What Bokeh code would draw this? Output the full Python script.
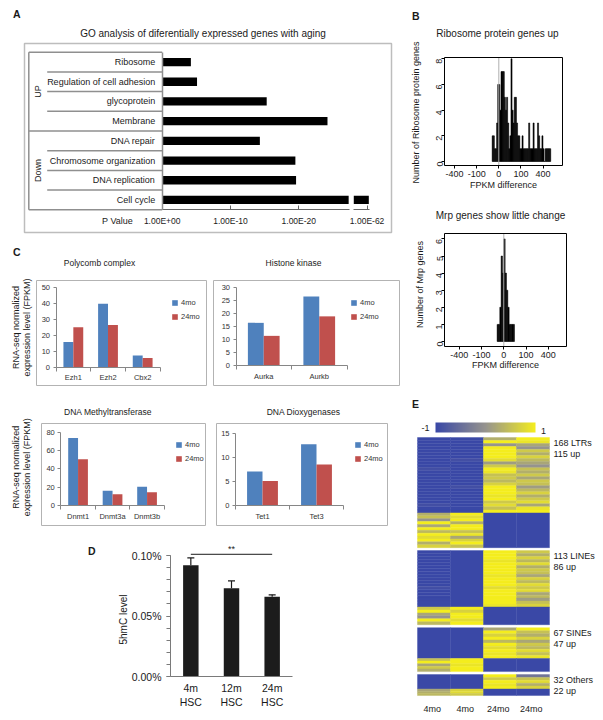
import math
import numpy as np
from bokeh.plotting import figure
from bokeh.models import (Range1d, LinearAxis, FixedTicker, Label, Legend, LegendItem,
                          Whisker, TeeHead, ColumnDataSource, LinearColorMapper,
                          PrintfTickFormatter)
from bokeh.layouts import row, column
from bokeh.embed import file_html
from bokeh.resources import INLINE
from bokeh.core.properties import value

FONT = "Liberation Sans"
INK = "#1a1a1a"
BLUE = "#4f81bd"
RED = "#c0504d"

# ====================== DATA ======================
# A: GO analysis, -log10(P value) per term
go_terms = ["Ribosome", "Regulation of cell adhesion", "glycoprotein", "Membrane",
            "DNA repair", "Chromosome organization", "DNA replication", "Cell cycle"]
go_groups = ["UP", "Down"]
go_group_sizes = [4, 4]
go_neglog10_p = [4.2, 5.1, 15.3, 24.2, 14.3, 19.5, 19.6, 63.0]
go_ticks = [0, 10, 20, 62]
go_tick_labels = ["1.00E+00", "1.00E-10", "1.00E-20", "1.00E-62"]

# B: histograms on a signed-sqrt FPKM-difference axis
fpkm_ticks = [-400, -100, 0, 100, 400]
ribo_bin_left = [-3.0, -2.5, -2.0, -1.5, -1.0, -0.5, 0.0, 0.5, 1.0, 1.5, 2.0, 2.5, 3.0, 3.5,
                 4.0, 4.5, 5.0, 5.5, 6.0, 6.5, 7.0, 7.5, 8.0, 8.5, 9.0, 9.5, 10.0, 10.5, 11.0,
                 11.5, 12.0, 12.5, 13.0, 13.5, 14.0, 14.5, 15.0, 15.5, 16.0, 16.5, 17.0, 17.5,
                 18.0, 18.5, 19.0, 19.5, 20.0, 20.5, 21.0, 21.5, 22.0, 22.5, 23.0]
ribo_counts = [2, 2, 1, 1, 3, 6, 6, 4, 7, 7, 7, 5, 4, 5,
               3, 1, 2, 8, 4, 3, 5, 5, 3, 2, 2, 1, 1, 2, 1,
               1, 1, 1, 1, 3, 1, 1, 1, 3, 1, 1, 1, 3,
               2, 1, 1, 2, 1, 0, 1, 1, 1, 1, 1]
ribo_bin_width = 0.5
ribo_yticks = [0, 2, 4, 6, 8]
mrp_bin_left = [-3.0, -2.4, -1.8, -1.2, -0.6, 0.0, 0.6, 1.2, 1.8, 2.4, 3.0, 3.6, 4.2]
mrp_counts = [1, 1, 2, 5, 4, 6, 4, 3, 2, 1, 1, 1, 1]
mrp_bin_width = 0.6
mrp_yticks = [0, 1, 2, 3, 4, 5, 6]

# C: RNA-seq FPKM
ages = ["4mo", "24mo"]
pc_genes = ["Ezh1", "Ezh2", "Cbx2"]
pc_4mo = [15.7, 39.6, 7.3]
pc_24mo = [25.0, 26.4, 5.7]
hk_genes = ["Aurka", "Aurkb"]
hk_4mo = [16.4, 26.5]
hk_24mo = [11.4, 18.9]
dnmt_genes = ["Dnmt1", "Dnmt3a", "Dnmt3b"]
dnmt_4mo = [73.6, 16.2, 20.4]
dnmt_24mo = [50.6, 12.2, 14.6]
tet_genes = ["Tet1", "Tet3"]
tet_4mo = [7.1, 12.8]
tet_24mo = [5.1, 8.6]

# D: 5hmC level (%)
hsc_groups = ["4m\nHSC", "12m\nHSC", "24m\nHSC"]
hmc_mean = [0.092, 0.073, 0.066]
hmc_err = [0.006, 0.006, 0.0015]
hmc_ticks = [0, 0.05, 0.1]

# E: transposable element heatmap (stripes per column, top to bottom)
te_names = ["LTRs", "LINEs", "SINEs", "Others"]
te_total = [168, 113, 67, 32]
te_up = [115, 86, 47, 22]
hm_columns = ["4mo", "4mo", "24mo", "24mo"]
ltr_up = [
    [-1, -1, -1, -1, -1, -1, -1, -1, -1, -1, -0.9, -1, -1, -1, -1, -1, -1, -1, -1, -1, -1, -1, -0.9, -1, -1],
    [-1, -1, -1, -1, -1, -1, -1, -0.9, -1, -1, -1, -1, -1, -1, -1, -1, -0.9, -1, -1, -1, -1, -1, -1, -1, -1],
    [0.3, 1, 0.0, 1, 1, 1, 1, 0.8, 0.1, 0.6, 1, 0.9, 0.5, 0.6, 0.4, 0.7, 1, 1, 1, 0.9, 1, 0.6, 0.8, 0.5, 1],
    [1, 0.9, 0.2, 0.0, 0.6, 0.3, 0.7, 0.4, 0.2, 0.0, 0.5, 0.3, 0.6, 0.2, 0.6, 0.5, 0.1, 0.4, 0.7, 0.3, 0.6, 0.8, 0.2, 0.9, 1],
]
ltr_down = [
    [0.3, 0.5, 0.0, 1, 0.2, 1, 0.4, 1, 0.8, 1, 0.3, 0.7],
    [1, 0.8, 1, 0.3, 1, 1, 0.5, 0.9, 0.2, 0.7, 1, 0.5],
    [-1],
    [-1],
]
line_up = [
    [-1, -1, -1, -1, -1, -1, -1, -1, -1, -1, -1, -1, -0.9, -1, -1, -1, -1, -1, -1],
    [-1],
    [1, 1, 1, 0.9, 1, 1, 1, 1, 0.9, 1, 1, 1, 0.8, 1, 1, 1, 1, 1, 0.9],
    [0.6, 0.3, 0.7, 0.4, 0.8, 0.3, 0.6, 0.5, 0.2, 0.7, 0.4, 0.8, 0.6, 0.8, 0.2, 0.4, 0.1, 0.5, 0.7],
]
line_down = [
    [0.6, 1, 0.2, 0.0, 1, 0.4],
    [1, 0.7, 1, 1, 0.8, 1],
    [-1],
    [-1],
]
sine_up = [
    [-1],
    [-1],
    [0.2, 1, 0.7, 1, 0.4, 1, 0.8, 1, 0.9, 1],
    [1, 0.5, 0.3, 0.7, 0.2, 0.6, 0.4, 0.8, 0.5, 0.9],
]
sine_down = [
    [0.5, 1, 0.2, 0.6, 0.3],
    [1, 1, 0.9, 1, 1],
    [-1],
    [-1],
]
other_up = [
    [-1],
    [-1],
    [1, 0.6, 1, 0.9, 1],
    [-0.4, 0.5, 0.8, 0.3, 0.7],
]
other_down = [
    [0.2, 0.3, 0.4],
    [0.7, 0.8, 0.6],
    [-1],
    [-1],
]
te_up_stripes = [ltr_up, line_up, sine_up, other_up]
te_down_stripes = [ltr_down, line_down, sine_down, other_down]


# ====================== HELPERS ======================
class Cal:
    """Maps page pixels to data units for one figure."""
    def __init__(self, x0, xppu, y0, yppu, ydown=False):
        self.x0, self.xppu, self.y0, self.yppu, self.ydown = x0, xppu, y0, yppu, ydown

    def x(self, px):
        return (px - self.x0) / self.xppu

    def y(self, py):
        return (py - self.y0) / self.yppu if self.ydown else (self.y0 - py) / self.yppu


def make_fig(cal, fig_box):
    fx0, fy0, fx1, fy1 = fig_box
    p = figure(width=fx1 - fx0, height=fy1 - fy0,
               x_range=Range1d(cal.x(fx0), cal.x(fx1)), y_range=Range1d(cal.y(fy1), cal.y(fy0)),
               min_border=0, output_backend="svg", toolbar_location=None,
               x_axis_location=None, y_axis_location=None)
    p.grid.visible = False
    p.outline_line_color = None
    p.title.visible = False
    p.background_fill_color = "white"
    p.border_fill_color = "white"
    return p


def box(p, cal, px0, py0, px1, py1, color, width):
    p.quad(left=cal.x(px0), right=cal.x(px1), top=cal.y(py0), bottom=cal.y(py1),
           fill_color=None, line_color=color, line_width=width)


def label(p, cal, px, py, text, size, align="center", baseline="middle", angle=0.0,
          bold=False, color=INK):
    p.add_layout(Label(x=cal.x(px), y=cal.y(py), text=text, angle=angle,
                       text_font=FONT, text_font_size=f"{size}px",
                       text_font_style="bold" if bold else "normal",
                       text_align=align, text_baseline=baseline, text_color=color))


def style_axis(ax, size, color="#555555", label_color=INK, standoff=3, tick_in=0, tick_out=0,
               line_width=1):
    ax.axis_line_color = color
    ax.axis_line_width = line_width
    ax.major_tick_line_color = color
    ax.minor_tick_line_color = color
    ax.major_tick_in = tick_in
    ax.major_tick_out = tick_out
    ax.minor_tick_in = 0
    ax.minor_tick_out = 0
    ax.major_label_text_font = FONT
    ax.major_label_text_font_size = f"{size}px"
    ax.major_label_text_color = label_color
    ax.major_label_standoff = standoff


# ====================== PANEL A ======================
calA = Cal(161.7, 6.83, 51.7, 19.7, ydown=True)
pA = make_fig(calA, (0, 0, 400, 234))
box(pA, calA, 24, 43, 391, 232, "#bdbdbd", 1.5)

n_go = len(go_terms)
row_mid = [i + 0.5 for i in range(n_go)]
BREAK_LO, BREAK_HI, BREAK_TICK = 27.3, 28.05, 30.0


def go_disp(v):
    return v if v <= BREAK_LO else BREAK_TICK + (v - go_ticks[-1]) * 0.25


pA.hbar(y=row_mid, left=0, right=[min(v, BREAK_LO) for v in go_neglog10_p], height=0.42,
        fill_color="black", line_color=None)
brk = [(m, go_disp(v)) for m, v in zip(row_mid, go_neglog10_p) if v > BREAK_LO]
pA.hbar(y=[b[0] for b in brk], left=BREAK_HI, right=[b[1] for b in brk], height=0.42,
        fill_color="black", line_color=None)

tick_pos = [go_disp(t) for t in go_ticks]
ax_main = LinearAxis(fixed_location=n_go, bounds=(0, BREAK_LO + 0.1),
                     ticker=FixedTicker(ticks=[t for t in tick_pos if t <= BREAK_LO]),
                     major_label_overrides={t: l for t, l in zip(tick_pos, go_tick_labels) if t <= BREAK_LO})
ax_brk = LinearAxis(fixed_location=n_go, bounds=(BREAK_HI - 0.05, BREAK_TICK + 0.3),
                    ticker=FixedTicker(ticks=[t for t in tick_pos if t > BREAK_LO]),
                    major_label_overrides={t: l for t, l in zip(tick_pos, go_tick_labels) if t > BREAK_LO})
for ax in (ax_main, ax_brk):
    style_axis(ax, 8.5, color="#666666", standoff=6, tick_in=4, tick_out=0)
    pA.add_layout(ax, "below")

ax_cat = LinearAxis(fixed_location=0, bounds=(0, n_go), ticker=FixedTicker(ticks=row_mid),
                    major_label_overrides=dict(zip(row_mid, go_terms)))
style_axis(ax_cat, 9, color="#8f8f8f", standoff=7, line_width=1.5)
pA.add_layout(ax_cat, "left")

# table rules
TABLE_LEFT = calA.x(28.3)
SUB_LEFT = calA.x(46.7)
group_edges = [int(e) for e in np.cumsum([0] + go_group_sizes)]
sub_edges = [k for k in range(n_go + 1) if k not in group_edges]
seg_x0 = [TABLE_LEFT] * len(group_edges) + [SUB_LEFT] * len(sub_edges) + [TABLE_LEFT]
seg_x1 = [0] * (len(group_edges) + len(sub_edges)) + [TABLE_LEFT]
seg_y0 = [float(e) for e in group_edges] + [float(e) for e in sub_edges] + [0.0]
seg_y1 = [float(e) for e in group_edges] + [float(e) for e in sub_edges] + [float(n_go)]
pA.segment(x0=seg_x0, y0=seg_y0, x1=seg_x1, y1=seg_y1, line_color="#8f8f8f", line_width=1.5)

group_mid = [group_edges[i] + go_group_sizes[i] / 2 for i in range(len(go_groups))]
pA.text(x=[calA.x(37)] * len(go_groups), y=group_mid, text=go_groups, angle=math.pi / 2,
        text_font=value(FONT), text_font_size=value("9px"), text_color=INK,
        text_align="center", text_baseline="middle")
label(pA, calA, 117, 220.5, "P Value", 9)
label(pA, calA, 202.5, 33.3, "GO analysis of diferentially expressed genes with aging", 10)
label(pA, calA, 12.5, 13.5, "A", 10.5, align="left", bold=True)


# ====================== PANEL B ======================
def signed_sqrt(v):
    return math.copysign(math.sqrt(abs(v)), v)


def make_hist(cal, fig_box, frame_px, bin_left, counts, width, yticks, title, title_px,
              ylab, ylab_px, xlab_y, letter_px=None):
    p = make_fig(cal, fig_box)
    l, t, r, b = frame_px
    p.quad(left=bin_left, right=[v + width for v in bin_left], bottom=0, top=counts,
           fill_color="black", line_color="black", line_width=0.5)
    p.segment(x0=[0], y0=[cal.y(b)], x1=[0], y1=[cal.y(t)], line_color="#b0b0b0", line_width=1)
    box(p, cal, l, t, r, b, "black", 1)
    xt = [signed_sqrt(v) for v in fpkm_ticks]
    xa = LinearAxis(fixed_location=cal.y(b), bounds=(xt[0], xt[-1]), ticker=FixedTicker(ticks=xt),
                    major_label_overrides={tk: str(v) for tk, v in zip(xt, fpkm_ticks)})
    style_axis(xa, 9, color="black", standoff=2, tick_out=3)
    p.add_layout(xa, "below")
    ya = LinearAxis(fixed_location=cal.x(l), bounds=(yticks[0], yticks[-1]),
                    ticker=FixedTicker(ticks=yticks), major_label_orientation=math.pi / 2)
    style_axis(ya, 9, color="black", standoff=2, tick_out=3)
    p.add_layout(ya, "left")
    label(p, cal, (l + r) / 2, xlab_y, "FPKM difference", 9)
    label(p, cal, ylab_px[0], ylab_px[1], ylab, 9, angle=math.pi / 2)
    label(p, cal, title_px[0], title_px[1], title, 10)
    if letter_px:
        label(p, cal, letter_px[0], letter_px[1], "B", 10.5, align="left", bold=True)
    return p


calB1 = Cal(498.3, 2.21, 161, 12.84)
pB1 = make_hist(calB1, (400, 0, 602, 195), (444, 57, 562, 165), ribo_bin_left, ribo_counts,
                ribo_bin_width, ribo_yticks, "Ribosome protein genes up", (497, 33.3),
                "Number of Ribosome protein genes", (415, 112), 184.3, letter_px=(411.5, 15))
calB2 = Cal(503.3, 2.225, 341, 17.1)
pB2 = make_hist(calB2, (400, 195, 602, 378), (444, 233, 566, 346), mrp_bin_left, mrp_counts,
                mrp_bin_width, mrp_yticks, "Mrp genes show little change", (500, 215),
                "Number of Mrp genes", (419, 284), 364)


# ====================== PANEL C ======================
def make_expr(cal, fig_box, box_px, genes, v4, v24, ymax, ystep, legend_px, title,
              title_px, ylab_px=None, letter_px=None):
    p = make_fig(cal, fig_box)
    box(p, cal, *box_px, "#b3b3b3", 1)
    n = len(genes)
    centers = [i + 0.5 for i in range(n)]
    bw = 1 / 3.5
    src = ColumnDataSource(dict(x4=[c - bw / 2 for c in centers], x24=[c + bw / 2 for c in centers],
                                v4=v4, v24=v24))
    r4 = p.vbar(x="x4", top="v4", bottom=0, width=bw, source=src, fill_color=BLUE, line_color=None)
    r24 = p.vbar(x="x24", top="v24", bottom=0, width=bw, source=src, fill_color=RED, line_color=None)

    ya = LinearAxis(fixed_location=0, bounds=(0, ymax),
                    ticker=FixedTicker(ticks=list(range(0, ymax + 1, ystep))))
    style_axis(ya, 7.5, color="#868686", label_color="#333333", standoff=3, tick_out=3)
    p.add_layout(ya, "left")
    xa = LinearAxis(fixed_location=0, bounds=(0, n), ticker=FixedTicker(ticks=list(range(n + 1))),
                    major_label_overrides={i: "" for i in range(n + 1)})
    style_axis(xa, 7.5, color="#868686", standoff=3, tick_out=4)
    p.add_layout(xa, "below")
    xl = LinearAxis(fixed_location=0, ticker=FixedTicker(ticks=centers),
                    major_label_overrides=dict(zip(centers, genes)))
    style_axis(xl, 7.5, color="#868686", label_color="#333333", standoff=6)
    xl.axis_line_color = None
    xl.major_tick_line_color = None
    p.add_layout(xl, "below")

    legend = Legend(items=[LegendItem(label=ages[0], renderers=[r4]),
                           LegendItem(label=ages[1], renderers=[r24])],
                    location=(legend_px[0] - fig_box[0], fig_box[3] - legend_px[1]),
                    border_line_color=None, background_fill_alpha=0, padding=0, margin=0,
                    spacing=5, glyph_width=7, glyph_height=7, label_height=9, label_standoff=3,
                    label_text_font=FONT, label_text_font_size="7.5px", label_text_color="#333333")
    p.add_layout(legend)

    label(p, cal, title_px[0], title_px[1], title, 8.5)
    if ylab_px:
        label(p, cal, ylab_px[0], ylab_px[2], "RNA-seq normalized", 9, angle=math.pi / 2)
        label(p, cal, ylab_px[1], ylab_px[2], "expression level (FPKM)", 9, angle=math.pi / 2)
    if letter_px:
        label(p, cal, letter_px[0], letter_px[1], "C", 10.5, align="left", bold=True)
    return p


calC1 = Cal(55.5, 34.67, 366.7, 1.6)
pC1 = make_expr(calC1, (0, 234, 209, 392), (36, 280, 206, 385), pc_genes, pc_4mo, pc_24mo,
                50, 10, (171, 320.5), "Polycomb complex", (99, 262),
                ylab_px=(15.5, 26, 327), letter_px=(12.5, 251.7))
calC2 = Cal(235.5, 55.5, 365, 2.6)
pC2 = make_expr(calC2, (209, 234, 400, 392), (213, 280, 399, 385), hk_genes, hk_4mo, hk_24mo,
                30, 5, (350, 320.5), "Histone kinase", (293, 262))
calC3 = Cal(60.3, 34.5, 505, 0.916)
pC3 = make_expr(calC3, (0, 392, 209, 530), (41, 423, 205, 525), dnmt_genes, dnmt_4mo, dnmt_24mo,
                80, 20, (175, 462.5), "DNA Methyltransferase", (107.5, 411.7),
                ylab_px=(15.5, 26, 466.7))
calC4 = Cal(235, 54, 505, 4.78)
pC4 = make_expr(calC4, (209, 392, 400, 530), (216, 423, 387, 525), tet_genes, tet_4mo, tet_24mo,
                15, 5, (354, 463), "DNA Dioxygenases", (303, 411.7))


# ====================== PANEL D ======================
calD = Cal(170, 122 / 3, 676, 1210)
pD = make_fig(calD, (0, 530, 400, 719))
hsc_x = [i + 0.5 for i in range(len(hsc_groups))]
pD.vbar(x=hsc_x, top=hmc_mean, bottom=0, width=0.38, fill_color="#1c1c1c", line_color=None)
err_src = ColumnDataSource(dict(x=hsc_x, lower=hmc_mean,
                                upper=[m + e for m, e in zip(hmc_mean, hmc_err)]))
pD.add_layout(Whisker(source=err_src, base="x", lower="lower", upper="upper", dimension="height",
                      line_color=INK, line_width=1.2,
                      upper_head=TeeHead(size=7, line_color=INK, line_width=1.2), lower_head=None))
SIG_Y = max(m + e for m, e in zip(hmc_mean, hmc_err)) + 0.003
pD.segment(x0=[hsc_x[0]], y0=[SIG_Y], x1=[hsc_x[-1]], y1=[SIG_Y], line_color=INK, line_width=1)
pD.text(x=[hsc_x[1]], y=[SIG_Y + 0.0004], text=["**"], text_font=value(FONT),
        text_font_size=value("9px"), text_color=INK, text_align="center", text_baseline="bottom")
yD = LinearAxis(fixed_location=0, bounds=(hmc_ticks[0], hmc_ticks[-1]),
                ticker=FixedTicker(ticks=hmc_ticks, minor_ticks=[i / 100 for i in range(11)]),
                formatter=PrintfTickFormatter(format="%.2f%%"))
style_axis(yD, 10.5, color="#7a7a7a", standoff=5, tick_out=4)
yD.minor_tick_out = 4
pD.add_layout(yD, "left")
xD = LinearAxis(fixed_location=0, bounds=(0, len(hsc_groups)), ticker=FixedTicker(ticks=hsc_x),
                major_label_overrides=dict(zip(hsc_x, hsc_groups)))
style_axis(xD, 10.5, color="#7a7a7a", standoff=5)
pD.add_layout(xD, "below")
label(pD, calD, 123, 619, "5hmC level", 10, angle=math.pi / 2)
label(pD, calD, 87.5, 550, "D", 10.5, align="left", bold=True)


# ====================== PANEL E ======================
def lerp(c1, c2, t):
    return tuple(int(round(a + (b - a) * t)) for a, b in zip(c1, c2))


E_BLUE, E_MID, E_YEL = (58, 72, 166), (150, 148, 142), (244, 237, 30)
palette = []
for i in range(256):
    t = i / 255
    c = lerp(E_BLUE, E_MID, t / 0.5) if t < 0.5 else lerp(E_MID, E_YEL, (t - 0.5) / 0.5)
    palette.append("#%02x%02x%02x" % c)
mapper = LinearColorMapper(palette=palette, low=-1, high=1)

GAP_ROWS = 4.5
calE = Cal(417, 33, 437, 0.6557, ydown=True)
pE = make_fig(calE, (400, 378, 602, 719))

cells = dict(l=[], r=[], t=[], b=[], v=[])
block_start = []
start = 0.0
for k in range(len(te_names)):
    block_start.append(start)
    parts = [(start, te_up[k], te_up_stripes[k]),
             (start + te_up[k], te_total[k] - te_up[k], te_down_stripes[k])]
    for s0, nrows, cols in parts:
        for ci, stripes in enumerate(cols):
            h = nrows / len(stripes)
            for si, v in enumerate(stripes):
                cells["l"].append(ci)
                cells["r"].append(ci + 1)
                cells["t"].append(s0 + si * h)
                cells["b"].append(s0 + (si + 1) * h)
                cells["v"].append(v)
    start += te_total[k] + GAP_ROWS
pE.quad(source=ColumnDataSource(cells), left="l", right="r", top="t", bottom="b",
        fill_color={"field": "v", "transform": mapper},
        line_color={"field": "v", "transform": mapper}, line_width=0.4)

# colour key
pE.image(image=[np.linspace(-1, 1, 200).reshape(1, -1)], x=calE.x(435), y=calE.y(422),
         dw=calE.x(535) - calE.x(435), dh=calE.y(432) - calE.y(422), color_mapper=mapper)

txt_kw = dict(text_font=value(FONT), text_font_size=value("9px"), text_color=INK,
              text_baseline="middle")
pE.text(x=[calE.x(425), calE.x(543)], y=[calE.y(427), calE.y(430)], text=["-1", "1"],
        text_align="center", **txt_kw)
lab_x, lab_y, lab_t = [], [], []
for k in range(len(te_names)):
    lab_x += [calE.x(553)] * 2
    lab_y += [block_start[k] + 8.4, block_start[k] + 25.5]
    lab_t += [f"{te_total[k]} {te_names[k]}", f"{te_up[k]} up"]
pE.text(x=lab_x, y=lab_y, text=lab_t, text_align="left", **txt_kw)
pE.text(x=[i + 0.45 for i in range(len(hm_columns))], y=[calE.y(708)] * len(hm_columns),
        text=hm_columns, text_align="center", **txt_kw)
label(pE, calE, 411.5, 403.3, "E", 10.5, align="left", bold=True)


# ====================== LAYOUT ======================
left = column(pA, row(pC1, pC2), row(pC3, pC4), pD)
right = column(pB1, pB2, pE)
layout = row(left, right)

open("out.html", "w").write(file_html(layout, INLINE))
